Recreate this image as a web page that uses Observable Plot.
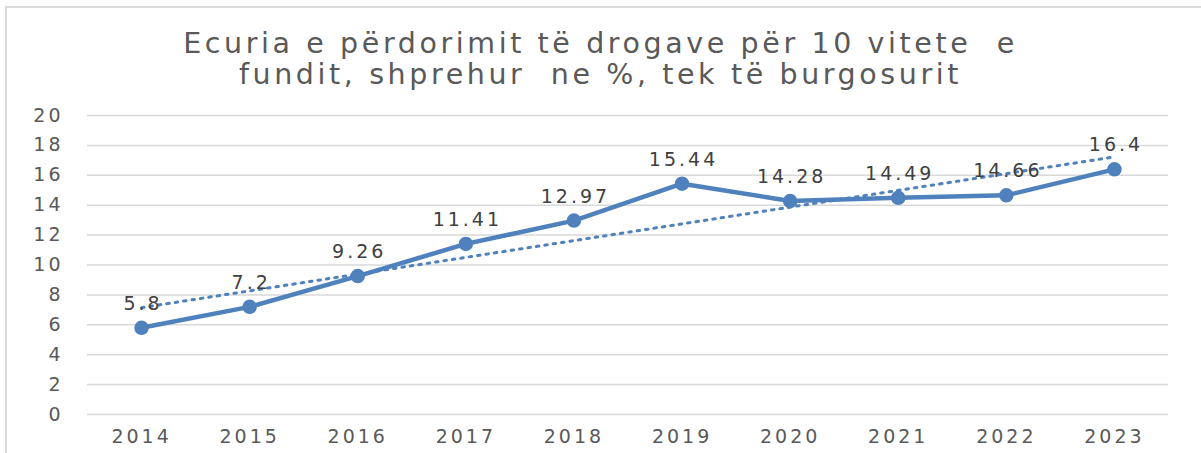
<!DOCTYPE html>
<html>
<head>
<meta charset="utf-8">
<script src="https://cdn.jsdelivr.net/npm/d3@7"></script>
<script src="https://cdn.jsdelivr.net/npm/@observablehq/plot@0.6"></script>
<style>
  html, body { margin: 0; padding: 0; background: #fff; overflow: hidden; width: 1201px; height: 453px; }
  #frame { position: absolute; left: 5px; top: 6px; width: 1300px; height: 600px;
           border-left: 2px solid #d9d9d9; border-top: 2px solid #d9d9d9; pointer-events: none; }
  #title { position: absolute; left: 0; top: 0; width: 1201px; height: 100px; text-align: center;
           font-family: "DejaVu Sans", sans-serif; font-size: 28.5px; color: #595959; letter-spacing: 3.6px;
           line-height: 31px; padding-top: 28px; box-sizing: border-box; white-space: pre; }
  #chart { position: absolute; left: 0; top: 100px; }
</style>
</head>
<body>
<div id="frame"></div>
<div id="title">Ecuria e përdorimit të drogave për 10 vitete  e
fundit, shprehur  ne %, tek të burgosurit</div>
<div id="chart"></div>
<script>
const years = [2014, 2015, 2016, 2017, 2018, 2019, 2020, 2021, 2022, 2023];
const values = [5.8, 7.2, 9.26, 11.41, 12.97, 15.44, 14.28, 14.49, 14.66, 16.4];
const labels = ["5.8", "7.2", "9.26", "11.41", "12.97", "15.44", "14.28", "14.49", "14.66", "16.4"];
const yTicks = [0, 2, 4, 6, 8, 10, 12, 14, 16, 18, 20];

const data = years.map((y, i) => ({year: y, value: values[i], label: labels[i]}));
const blue = "#4f81bd";

const plot = Plot.plot({
  width: 1201,
  height: 353,
  marginTop: 15,
  marginBottom: 39,
  marginLeft: 87,
  marginRight: 33,
  style: {fontFamily: "DejaVu Sans, sans-serif", fontSize: "19px", color: "#595959", letterSpacing: "3px", background: "transparent"},
  x: {type: "linear", domain: [2013.5, 2023.5], ticks: years, tickFormat: d => String(d), tickSize: 0, tickPadding: 16, label: null},
  y: {domain: [0, 20], ticks: yTicks, tickSize: 0, tickPadding: 24, label: null},
  marks: [
    Plot.gridY(yTicks, {stroke: "#d9d9d9", strokeOpacity: 1, strokeWidth: 1.5}),
    Plot.axisX({ticks: years, tickFormat: d => String(d), tickSize: 0, tickPadding: 15, fill: "#595959", fontSize: 19, label: null}),
    Plot.axisY({ticks: yTicks, tickSize: 0, tickPadding: 24, fill: "#595959", fontSize: 19, label: null}),
    Plot.line(data, {x: "year", y: "value", stroke: blue, strokeWidth: 4.5, strokeLinejoin: "round"}),
    Plot.dot(data, {x: "year", y: "value", r: 6.5, fill: blue, stroke: blue}),
    Plot.linearRegressionY(data, {x: "year", y: "value", stroke: blue, strokeWidth: 3, strokeDasharray: "2.5,6", strokeLinecap: "round", ci: 0}),
    Plot.text(data, {x: "year", y: "value", text: "label", dy: -24, dx: 1.5, fill: "#404040", fontSize: 19})
  ]
});
document.getElementById("chart").appendChild(plot);
</script>
</body>
</html>
